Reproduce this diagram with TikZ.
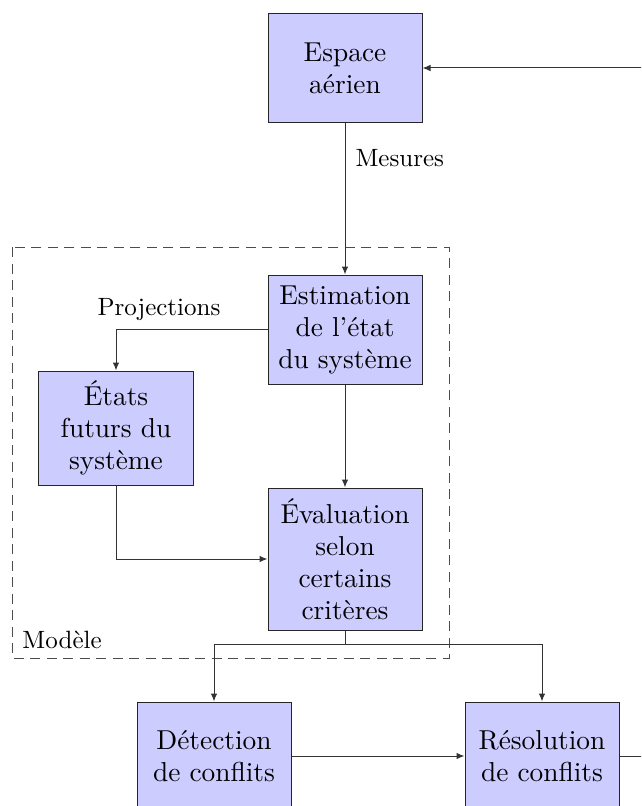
\documentclass[tikz,border=0pt]{standalone}
\usetikzlibrary{arrows.meta}
\begin{document}
\begin{tikzpicture}[x=0.4pt,y=-0.4pt,
  box/.style={draw=black!85,fill=blue!20,line width=0.4pt,text width=56pt,inner xsep=2.8pt,inner ysep=0pt,align=center,
    font=\fontsize{10.95}{12.8}\selectfont},
  lbl/.style={font=\fontsize{10}{12}\selectfont,inner sep=0pt},
  conn/.style={draw=black!80,line width=0.4pt},
  arr/.style={conn,-{Latex[length=3.2pt,width=2.6pt]}}]
\clip (0,0) rectangle (641,806);
\useasboundingbox (0,0) rectangle (641,806);
\node[box,minimum height=43.2pt] (esp) at (345,68) {Espace\\aérien};
\node[box,minimum height=43.6pt] (est) at (345,329.5) {Estimation\\de l’état\\du système};
\node[box,minimum height=45.6pt] (fut) at (116,428) {États\\futurs du\\système};
\node[box,minimum height=56.8pt] (eva) at (345,559) {Évaluation\\selon\\certains\\critères};
\node[box,minimum height=43.2pt] (det) at (214,756) {Détection\\de conflits};
\node[box,minimum height=43.2pt] (res) at (542,756) {Résolution\\de conflits};
\draw[dashed,dash pattern=on 4pt off 2.6pt,draw=black!70,line width=0.4pt] (12,247) rectangle (449,658);
\node[lbl,anchor=base west] (mod) at (22,648) {Modèle};
\node[lbl,anchor=base west] (mes) at (355,167) {Mesures};
\node[lbl,anchor=base] (proj) at (159,315) {Projections};
\draw[arr] (esp) -- (est);
\draw[arr] (est.west) -| (fut.north);
\draw[arr] (est) -- (eva);
\draw[arr] (fut.south) |- (eva.west);
\coordinate (br) at (345,644);
\draw[conn] (eva.south) -- (br);
\draw[arr] (br) -| (det.north);
\draw[arr] (br) -| (res.north);
\draw[arr] (det) -- (res);
\coordinate (far) at (700,756);
\draw[arr] (res.east) -- (far) |- (esp.east);
\end{tikzpicture}
\end{document}
